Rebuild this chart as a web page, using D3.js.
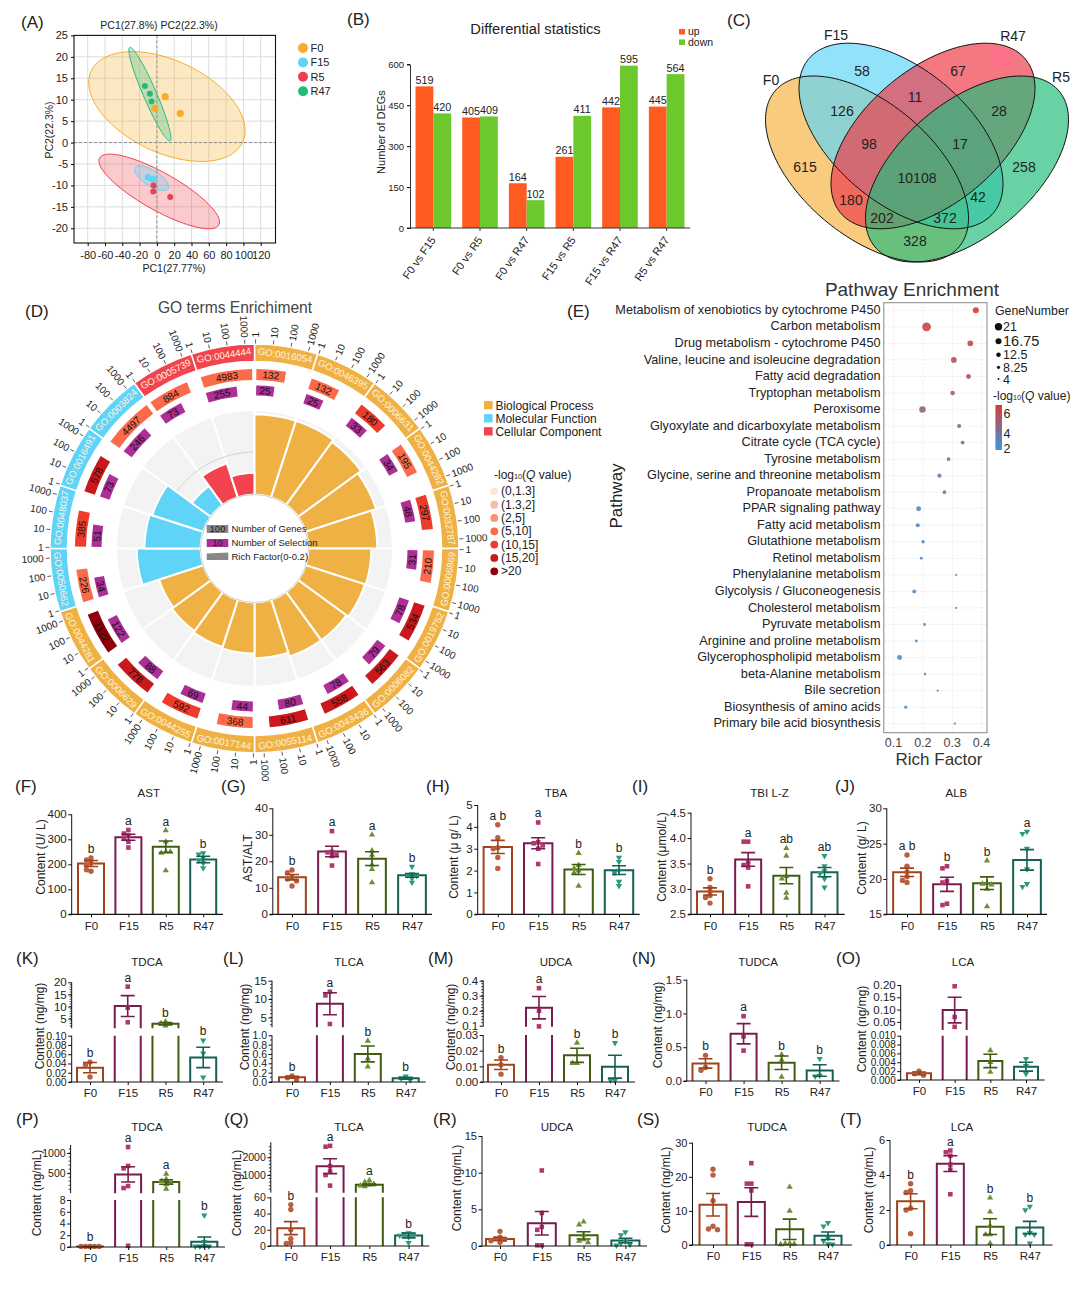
<!DOCTYPE html>
<html><head><meta charset="utf-8">
<script src="https://cdnjs.cloudflare.com/ajax/libs/d3/7.8.5/d3.min.js"></script>
<style>html,body{margin:0;padding:0;background:#fff}svg{display:block}text{font-family:"Liberation Sans",Arial,sans-serif;fill:#222}</style>
</head><body><svg id="c" width="1080" height="1312" viewBox="0 0 1080 1312"></svg>
<script>
// ---------- DATA ----------
const groups=['F0','F15','R5','R47'];
const groupColors=['#F7AC2B','#5FD4F8','#EE3F4D','#22BC7A'];
// A PCA
const pcaXTicks=[-80,-60,-40,-20,0,20,40,60,80,100,120];
const pcaYTicks=[-20,-15,-10,-5,0,5,10,15,20,25];
const pcaF0=[[9.6,10.7],[-2.3,8.0],[27,6.8]];
const pcaF15=[[-10.4,-8.1],[-5.4,-8.5],[-3.9,-8.5]];
const pcaR5=[[-3.9,-10],[-4.2,-11.4],[15.4,-12.7]];
const pcaR47=[[-13.9,13.2],[-8.1,11.4],[-6.2,9.6]];
// centre x, centre y, half-extent x, half-extent y, correlation
const ellF0=[11.6,8.4,90.4,12.8,-0.44];
const ellF15=[-6.2,-8.3,19.7,2.9,-0.7];
const ellR5=[2.7,-11.4,69.7,8.7,-0.82];
const ellR47=[-8.1,11.3,24.3,10.9,-0.94];
// B DEG
const degPairs=['F0 vs F15','F0 vs R5','F0 vs R47','F15 vs R5','F15 vs R47','R5 vs R47'];
const degUp=[519,405,164,261,442,445];
const degDown=[420,409,102,411,595,564];
const degTicks=[0,150,300,450,600];
// C Venn
const vennSets=['F0','F15','R47','R5'];
const vennLabels=[['58'],['67'],['126'],['11'],['28'],['98'],['17'],['615'],['10108'],['258'],['180'],['42'],['202'],['372'],['328']];
// D GO circle
const goIds=['GO:0016054','GO:0046395','GO:0006631','GO:0044282','GO:0032787','GO:0006869','GO:0019752','GO:0006082','GO:0043436','GO:0055114','GO:0017144','GO:0044255','GO:0006629','GO:0044281','GO:0050662','GO:0048037','GO:0016491','GO:0003824','GO:0005739','GO:0044444'];
const goClass=[0,0,0,0,0,0,0,0,0,0,0,0,0,0,1,1,1,1,2,2];
const goGenes=[132,132,180,195,297,210,534,563,558,611,368,592,778,1122,226,385,578,4497,884,4983];
const goSel=[25,25,33,34,48,31,78,79,78,80,44,69,88,122,34,51,73,246,73,255];
const goRich=[.189,.189,.183,.174,.162,.148,.146,.140,.140,.131,.120,.117,.113,.109,.150,.132,.126,.055,.083,.051];
const goQBin=[3,3,4,3,4,3,5,5,5,5,3,4,5,6,3,4,5,3,3,3];
const goClassNames=['Biological Process','Molecular Function','Cellular Component'];
const goClassColors=['#F0B144','#5FD4F8','#F2434F'];
const qBins=['(0,1.3]','(1.3,2]','(2,5]','(5,10]','(10,15]','(15,20]','>20'];
const qColors=['#FEE5DC','#FDBBA1','#FC9272','#FB6A4A','#EF3B2C','#CB181D','#8E000C'];
const logTicks=[1,10,100,1000];
// E pathway
const pathways=['Metabolism of xenobiotics by cytochrome P450','Carbon metabolism','Drug metabolism - cytochrome P450','Valine, leucine and isoleucine degradation','Fatty acid degradation','Tryptophan metabolism','Peroxisome','Glyoxylate and dicarboxylate metabolism','Citrate cycle (TCA cycle)','Tyrosine metabolism','Glycine, serine and threonine metabolism','Propanoate metabolism','PPAR signaling pathway','Fatty acid metabolism','Glutathione metabolism','Retinol metabolism','Phenylalanine metabolism','Glycolysis / Gluconeogenesis','Cholesterol metabolism','Pyruvate metabolism','Arginine and proline metabolism','Glycerophospholipid metabolism','beta-Alanine metabolism','Bile secretion','Biosynthesis of amino acids','Primary bile acid biosynthesis'];
const pathRich=[.379,.211,.360,.304,.354,.300,.197,.322,.334,.286,.255,.272,.184,.181,.199,.193,.312,.169,.312,.204,.176,.119,.206,.249,.140,.307];
const pathGenes=[14,21,13,13,11,10,15,9,8,8,9,8,11,9,7,6,4,8,4,6,6,11,5,4,7,4];
const pathQ=[6.9,6.5,6.3,6.0,5.7,5.3,4.8,4.6,4.4,4.2,3.8,3.6,3.0,2.8,2.5,2.3,2.1,2.2,2.1,2.1,2.2,2.2,2.1,2.0,2.1,2.0];
const pathTicks=[.1,.2,.3,.4];
const geneLegend=[21,16.75,12.5,8.25,4];
// F..T bars: mean, s.e.m., individual points, letters
const astM=[203,308,270,219],astE=[12,12,23,13],astP=[[225,217,205,196,172,178],[337,323,315,302,290,267],[335,290,250,245,250,175],[245,240,225,215,205,185]],astS=['b','a','a','b'];
const ratM=[14,23.7,21,14.7],ratE=[1,2,2.6,.7],ratP=[[16.7,15.7,14,13.3,12.6,10.7],[31.4,23.6,23.4,22.4,22,18.4],[30,24,22.4,18.6,17,12],[18,15.2,14.8,14.5,13.6,12]],ratS=['b','a','a','b'];
const tbaM=[3.08,3.25,2.05,2.02],tbaE=[.3,.25,.23,.2],tbaP=[[4.1,3.5,3.05,3,2.6,2.1],[4.2,3.3,3.25,3.15,3,2.3],[2.8,2.25,2.1,2,1.9,1.3],[2.6,2.4,2,1.9,1.5,1.3]],tbaS=['a b','a','b','b'];
const tbiM=[2.95,3.58,3.26,3.33],tbiE=[.07,.135,.16,.09],tbiP=[[3.2,3.03,2.95,2.87,2.83,2.72],[3.93,3.93,3.52,3.47,3.42,3.05],[3.8,3.65,3.25,3.2,2.92,2.82],[3.65,3.45,3.35,3.3,3.2,3.03]],tbiS=['b','a','ab','ab'];
const albM=[20.94,19.25,19.4,22.7],albE=[.6,1,.9,1.45],albP=[[23.4,21.8,21,20.3,19.8,19.5],[21.8,21.5,19.7,19.5,16.5,16.3],[22.6,19.4,19.3,19.2,18.6,16.1],[26.7,26.4,24.3,21.4,19.3,18.9]],albS=['a b','b','b','a'];
const k_M=[.031,10.2,2.9,.053],k_E=[.011,4.3,.5,.022],k_P=[[.043,.037,.011],[18.2,9.5,3.5],[3.8,3,2.1],[.09,.062,.01]],k_S=['b','a','b','b'];
const l_M=[.1,8.7,.6,.08],l_E=[.02,3,.17,.02],l_P=[[.13,.09,.05],[12,11,3.2],[.88,.5,.33],[.12,.08,.04]],l_S=['b','a','b','b'];
const m_M=[.011,.22,.017,.0098],m_E=[.003,.075,.0045,.0073],m_P=[[.0155,.011,.005],[.35,.2,.095],[.025,.012,.012],[.025,.001,.001]],m_S=['b','a','b','b'];
const n_M=[.26,.70,.27,.155],n_E=[.07,.15,.1,.085],n_P=[[.38,.2,.16],[.96,.66,.45],[.39,.31,.06],[.33,.08,.07]],n_S=['b','a','b','b'];
const o_M=[.0015,.098,.0043,.003],o_E=[.0003,.052,.0015,.001],o_P=[[.002,.0014,.0011],[.195,.07,.03],[.0067,.004,.0018],[.0048,.0032,.0014]],o_S=['','','',''];
const p_M=[.1,470,280,.9],p_E=[.02,190,55,.8],p_P=[[.1,.1,.1,.1,.1,.1],[1150,680,620,180,130,.2],[480,350,300,260,220,110],[5.4,.9,.2,.1,.1,.1]],p_S=['b','a','a','b'];
const q_M=[22,1500,453,13],q_E=[8,420,40,3],q_P=[[51,45,20,9,4,3],[2650,2600,1500,1200,1000,400],[700,600,500,450,400,350],[16,15,14,13,11,4]],q_S=['b','a','a','b'];
const r_M=[.95,3.1,1.45,.75],r_E=[.2,1.6,.5,.3],r_P=[[2,1.2,1,.9,.7,.5],[10.3,4.5,2.6,2.2,.1,.1],[3.3,2.9,1.5,.9,.7,.5],[1.9,1.5,.6,.4,.2,.1]],r_S=['','','',''];
const s_M=[11.8,12.6,4.6,2.7],s_E=[3.3,4.2,3,1.1],s_P=[[22.2,20.5,13,5.5,4.7,4.5],[24,18,18,16,.2,.2],[17,10,.5,.4,.3,.2],[6.5,5.5,2,1.2,.3,.2]],s_S=['','','',''];
const t_M=[2.5,4.65,1.05,1],t_E=[.43,.45,.45,.35],t_P=[[3.5,3.1,3,2.1,2,.65],[5.4,5.3,5.1,4.6,4.3,2.9],[2.7,1.9,1.1,.6,.6,.1],[2.2,2,.7,.6,.6,.1]],t_S=['b','a','b','b'];

// ---------- LAYOUT ----------
const svg=d3.select('#c');
function T(g,x,y,s,o={}){const e=g.append('text').attr('x',x).attr('y',y).text(s).attr('font-size',o.size||11).attr('text-anchor',o.anchor||'start');
 if(o.fill)e.style('fill',o.fill);if(o.rot!=null)e.attr('transform',`rotate(${o.rot},${x},${y})`);if(o.dy)e.attr('dy',o.dy);return e;}
function logQ(g,x,y,size){const e=g.append('text').attr('x',x).attr('y',y).attr('font-size',size);
 e.append('tspan').text('-log');e.append('tspan').text('10').attr('font-size',size*.6);e.append('tspan').text('(');e.append('tspan').text('Q').attr('font-style','italic');e.append('tspan').text(' value)');}
const panelLabels=[['(A)',21,28],['(B)',347,25],['(C)',727,26],['(D)',25,317],['(E)',567,317],['(F)',15,792],['(G)',221,792],['(H)',426,792],['(I)',632,792],['(J)',835,792],['(K)',16,964],['(L)',223,964],['(M)',428,964],['(N)',632,964],['(O)',836,964],['(P)',16,1125],['(Q)',224,1125],['(R)',433,1125],['(S)',637,1125],['(T)',840,1125]];
panelLabels.forEach(d=>T(svg,d[1],d[2],d[0],{size:17}));

// ---- A ----
(function(){
 const g=svg.append('g');
 const x=d3.scaleLinear().domain([-80,120]).range([87.7,260.7]);
 const y=d3.scaleLinear().domain([-20,25]).range([228.3,35.4]);
 const L=74,R=275.5,Tp=35.4,B=243;
 g.selectAll('.gx').data(pcaXTicks).join('line').attr('x1',x).attr('x2',x).attr('y1',Tp).attr('y2',B).attr('stroke','#dddddd');
 g.selectAll('.gy').data(pcaYTicks).join('line').attr('y1',y).attr('y2',y).attr('x1',L).attr('x2',R).attr('stroke','#dddddd');
 const line=d3.line().x(d=>x(d[0])).y(d=>y(d[1])).curve(d3.curveLinearClosed);
 const ts=d3.range(0,Math.PI*2,Math.PI/60);
 [ellF0,ellR47,ellR5,ellF15].forEach((e,i)=>{const c=[groupColors[0],groupColors[3],groupColors[2],groupColors[1]][i];
  const ph=Math.acos(e[4]);const pts=ts.map(t=>[e[0]+e[2]*Math.cos(t),e[1]+e[3]*Math.cos(t+ph)]);
  g.append('path').attr('d',line(pts)).attr('fill',c).attr('fill-opacity',.28).attr('stroke',c).attr('stroke-width',1);});
 g.append('line').attr('x1',x(0)).attr('x2',x(0)).attr('y1',Tp).attr('y2',B).attr('stroke','#8f8f8f').attr('stroke-dasharray','3,2');
 g.append('line').attr('y1',y(0)).attr('y2',y(0)).attr('x1',L).attr('x2',R).attr('stroke','#8f8f8f').attr('stroke-dasharray','3,2');
 [pcaF0,pcaR47,pcaF15,pcaR5].forEach((p,i)=>{const c=[groupColors[0],groupColors[3],groupColors[1],groupColors[2]][i],r=[3.6,3,3.2,3][i];
  g.selectAll(null).data(p).join('circle').attr('cx',d=>x(d[0])).attr('cy',d=>y(d[1])).attr('r',r).attr('fill',c);});
 g.append('rect').attr('x',L).attr('y',Tp).attr('width',R-L).attr('height',B-Tp).attr('fill','none').attr('stroke','#111').attr('stroke-width',1.1);
 const ax=g.append('g').attr('transform',`translate(0,${B})`).call(d3.axisBottom(x).tickValues(pcaXTicks).tickSize(3).tickFormat(d=>d));
 ax.select('.domain').remove();ax.selectAll('text').attr('font-size',11).attr('dy','.95em');
 const ay=g.append('g').attr('transform',`translate(${L},0)`).call(d3.axisLeft(y).tickValues(pcaYTicks).tickSize(3).tickFormat(d=>d));
 ay.select('.domain').remove();ay.selectAll('text').attr('font-size',11);
 T(g,159,29,'PC1(27.8%) PC2(22.3%)',{size:10.5,anchor:'middle'});
 T(g,174,272,'PC1(27.77%)',{size:10.5,anchor:'middle'});
 T(g,53,130,'PC2(22.3%)',{size:10.5,anchor:'middle',rot:-90});
 groups.forEach((n,i)=>{const yy=48+i*14.4;g.append('circle').attr('cx',303).attr('cy',yy).attr('r',5).attr('fill',groupColors[i]);T(g,310.5,yy+4,n,{size:11});});
})();

// ---- B ----
(function(){
 const g=svg.append('g');
 const x=d3.scaleBand().domain(degPairs).range([410,690]);
 const y=d3.scaleLinear().domain([0,600]).range([228,64.3]);
 const w=17.8;
 degPairs.forEach((p,i)=>{const c=x(p)+x.bandwidth()/2;
  g.append('rect').attr('x',c-w).attr('width',w).attr('y',y(degUp[i])).attr('height',y(0)-y(degUp[i])).attr('fill','#FF5A1F');
  g.append('rect').attr('x',c).attr('width',w).attr('y',y(degDown[i])).attr('height',y(0)-y(degDown[i])).attr('fill','#6CC82C');
  T(g,c-w/2,y(degUp[i])-2.5,degUp[i],{size:10.8,anchor:'middle'});
  T(g,c+w/2,y(degDown[i])-2.5,degDown[i],{size:10.8,anchor:'middle'});
  T(g,c+3,240,p,{size:11,anchor:'end',rot:-55});
 });
 const ay=g.append('g').attr('transform','translate(410,0)').call(d3.axisLeft(y).tickValues(degTicks).tickSize(3));
 ay.selectAll('text').attr('font-size',9.5);ay.select('.domain').attr('stroke','#333');
 g.append('line').attr('x1',407).attr('x2',690).attr('y1',y(0)).attr('y2',y(0)).attr('stroke','#333').attr('stroke-width',1.2);
 degPairs.forEach(p=>{const c=x(p)+x.bandwidth()/2;g.append('line').attr('x1',c).attr('x2',c).attr('y1',228).attr('y2',231).attr('stroke','#333');});
 T(g,535.5,34,'Differential statistics',{size:14.7,anchor:'middle'});
 T(g,385,132,'Number of DEGs',{size:11,anchor:'middle',rot:-90});
 [['up','#FF5A1F',29],['down','#6CC82C',39.5]].forEach(d=>{g.append('rect').attr('x',679).attr('y',d[2]).attr('width',6).attr('height',5.5).attr('fill',d[1]);T(g,688,d[2]+6,d[0],{size:10.5});});
})();

// ---- C ----
(function(){
 const g=svg.append('g');
 const ell=[[867,169,101.5,93,.53,'#F5A623'],[901,136,102,92.8,.515,'#5FD4F8'],[933,136,102,92.8,-.515,'#EE3F4D'],[967,169,101.5,93,-.53,'#22BC7A']];
 const ts=d3.range(0,Math.PI*2,Math.PI/80);
 const line=d3.line().curve(d3.curveLinearClosed);
 const paths=ell.map(e=>{const ph=Math.acos(e[4]);return line(ts.map(t=>[e[0]+e[2]*Math.cos(t),e[1]+e[3]*Math.cos(t+ph)]));});
 paths.forEach((p,i)=>g.append('path').attr('d',p).attr('fill',ell[i][5]).attr('fill-opacity',[.58,.68,.7,.68][i]));
 g.append('ellipse').attr('cx',1002).attr('cy',58).attr('rx',11).attr('ry',11).attr('fill','#FF6E8C').attr('fill-opacity',.7);
 paths.forEach(p=>g.append('path').attr('d',p).attr('fill','none').attr('stroke','#111').attr('stroke-width',1));
 const pos=[[862,71],[958,71],[842,111],[915,97],[999,111],[869,144],[960,144],[805,167],[917,178],[1024,167],[851,200],[978,197],[882,218],[945,218],[915,241]];
 vennLabels.forEach((d,i)=>T(g,pos[i][0],pos[i][1]+5,d[0],{size:14,anchor:'middle'}));
 [[836,40],[771,85],[1013,41],[1061,82]].forEach((p,i)=>T(g,p[0],p[1],['F15','F0','R47','R5'][i],{size:14,anchor:'middle'}));
})();

// ---- D ----
(function(){
 const cx=254.5,cy=548.5;
 const g=svg.append('g').attr('transform',`translate(${cx},${cy})`);
 const band=d3.scaleBand().domain(goIds).range([0,2*Math.PI]);
 const sw=band.bandwidth();
 const rich=d3.scaleLinear().domain([0,.2]).range([54,139]);
 const deg=Math.PI/180;
 const geneLen=d3.scaleLog().domain([1,1000]).range([0,13.5*deg]);
 const selLen=d3.scaleLog().domain([1,1000]).range([0,13.8*deg]);
 const tickAng=d3.scaleLog().domain([1,1000]).range([0,15*deg]);
 const arc=d3.arc();
 const gap=.6*deg;
 goIds.forEach((id,i)=>{
  const a0=band(id),a1=a0+sw;
  g.append('path').attr('d',arc({innerRadius:54,outerRadius:138.5,startAngle:a0,endAngle:a1})).attr('fill','#F3F3F3').attr('stroke','#fff').attr('stroke-width',2);
 });
 g.append('circle').attr('r',rich(.1)).attr('fill','none').attr('stroke','#c9c9c9').attr('stroke-width',.8);
 goIds.forEach((id,i)=>{
  const a0=band(id),a1=a0+sw,c=goClassColors[goClass[i]];
  g.append('path').attr('d',arc({innerRadius:54,outerRadius:rich(goRich[i]),startAngle:a0,endAngle:a1})).attr('fill',c).attr('stroke','#fff').attr('stroke-width',2);
  g.append('path').attr('d',arc({innerRadius:187,outerRadius:204.5,startAngle:a0,endAngle:a1})).attr('fill',c).attr('stroke','#fff').attr('stroke-width',1.5);
  const txt=(r,ang,s,o)=>{const d=ang/deg,top=(d<90||d>=270),rot=top?d:d-180;const px=r*Math.sin(ang),py=-r*Math.cos(ang);
   g.append('text').attr('transform',`translate(${px},${py}) rotate(${rot})`).attr('text-anchor','middle').attr('dy','.36em').attr('font-size',o.size).style('fill',o.fill).text(s);};
  txt(195.8,a0+sw/2,id,{size:9.6,fill:'#FFF3DC'});
  const ge=a0+gap+geneLen(goGenes[i]);
  g.append('path').attr('d',arc({innerRadius:168.5,outerRadius:179.5,startAngle:a0+gap,endAngle:ge})).attr('fill',qColors[goQBin[i]]);
  txt(174,(a0+gap+ge)/2,goGenes[i],{size:10,fill:'#111'});
  const se=a0+gap+selLen(goSel[i]);
  g.append('path').attr('d',arc({innerRadius:153,outerRadius:163,startAngle:a0+gap,endAngle:se})).attr('fill','#AC2E96');
  txt(158,(a0+gap+se)/2,goSel[i],{size:10,fill:'#111'});
  logTicks.forEach(v=>{const a=a0+.3*deg+tickAng(v),s=Math.sin(a),c2=-Math.cos(a),d=a/deg;
   g.append('line').attr('x1',205*s).attr('y1',205*c2).attr('x2',209*s).attr('y2',209*c2).attr('stroke','#333').attr('stroke-width',.8);
   const right=d<180;
   g.append('text').attr('transform',`translate(${211*s},${211*c2}) rotate(${right?d-90:d+90})`).attr('text-anchor',right?'start':'end').attr('dy','.35em').attr('font-size',10).text(v);
  });
 });
 g.append('circle').attr('r',54).attr('fill','#fff').attr('stroke','#cfcfcf').attr('stroke-width',1);
 const L=svg.append('g');
 L.append('rect').attr('x',206.7).attr('y',525).attr('width',21.6).attr('height',8).attr('fill','#888');
 T(L,217.5,532.2,'100',{size:9.5,anchor:'middle'});
 L.append('rect').attr('x',206.7).attr('y',539).attr('width',21.6).attr('height',8).attr('fill','#AC2E96');
 T(L,217.5,546.2,'10',{size:9.5,anchor:'middle'});
 L.append('path').attr('d','M206.7,553.5L228.3,552.5L228.3,560L206.7,560Z').attr('fill','#888');
 T(L,231.5,532,'Number of Genes',{size:9.5});T(L,231.5,546,'Number of Selection',{size:9.5});T(L,231.5,560,'Rich Factor(0-0.2)',{size:9.5});
 T(svg,235,313,'GO terms Enrichiment',{size:15.6,anchor:'middle',fill:'#444'});
 goClassNames.forEach((n,i)=>{const y=401+i*13.1;svg.append('rect').attr('x',484).attr('y',y).attr('width',8.6).attr('height',8.3).attr('fill',goClassColors[i]);T(svg,495.4,y+8.5,n,{size:12});});
 logQ(svg,494,479,12);
 qBins.forEach((n,i)=>{const y=491.3+i*13.33;svg.append('circle').attr('cx',494.3).attr('cy',y).attr('r',3.9).attr('fill',qColors[i]);T(svg,501,y+4,n,{size:12});});
})();

// ---- E ----
(function(){
 const g=svg.append('g');
 const L=883.8,R=987,Tp=302.7,B=732.7;
 const x=d3.scaleLinear().domain([.1,.4]).range([894,982]);
 const y=d3.scalePoint().domain(pathways).range([310.3,723.7]);
 const r=d3.scaleLinear().domain([4,21]).range([1.1,4.4]);
 const col=d3.scaleLinear().domain([1.8,7]).range(['#3B97E0','#D63C3A']);
 pathways.forEach(p=>g.append('line').attr('x1',L).attr('x2',R).attr('y1',y(p)).attr('y2',y(p)).attr('stroke','#e6e6e6').attr('stroke-dasharray','2,2').attr('stroke-width',.8));
 pathTicks.forEach(t=>g.append('line').attr('y1',Tp).attr('y2',B).attr('x1',x(t)).attr('x2',x(t)).attr('stroke','#e6e6e6').attr('stroke-dasharray','2,2').attr('stroke-width',.8));
 pathways.forEach((p,i)=>{g.append('circle').attr('cx',x(pathRich[i])).attr('cy',y(p)).attr('r',r(pathGenes[i])).attr('fill',col(pathQ[i])).attr('fill-opacity',.9);
  T(g,880.5,y(p)+3.6,p,{size:12.7,anchor:'end'});});
 g.append('rect').attr('x',L).attr('y',Tp).attr('width',R-L).attr('height',B-Tp).attr('fill','none').attr('stroke','#888').attr('stroke-width',1);
 pathTicks.forEach(t=>T(g,x(t)-.5,746.5,d3.format('.1f')(t),{size:12.5,anchor:'middle',fill:'#444'}));
 T(g,912,296,'Pathway Enrichment',{size:19,anchor:'middle',fill:'#333'});
 T(g,939,765,'Rich Factor',{size:17,anchor:'middle',fill:'#333'});
 T(g,622,496,'Pathway',{size:17,anchor:'middle',rot:-90});
 T(g,995,315,'GeneNumber',{size:12.3});
 const ly=[326.7,341.3,354.7,367.3,379];
 geneLegend.forEach((v,i)=>{g.append('circle').attr('cx',998.5).attr('cy',ly[i]).attr('r',r(v)*.84).attr('fill','#111');T(g,1003,ly[i]+(i==1?5:4.5),v,{size:i==1?14.5:12.5});});
 logQ(g,993,400,12);
 const defs=svg.append('defs');const lg=defs.append('linearGradient').attr('id','qg').attr('x1',0).attr('x2',0).attr('y1',0).attr('y2',1);
 lg.append('stop').attr('offset','0').attr('stop-color',col(7));lg.append('stop').attr('offset','1').attr('stop-color',col(1.8));
 const cy=d3.scaleLinear().domain([7,1.8]).range([405,450]);
 g.append('rect').attr('x',995.4).attr('y',405).attr('width',6.6).attr('height',45).attr('fill','url(#qg)');
 [6,4,2].forEach(v=>T(g,1003.5,cy(v)+[4,7,5][[6,4,2].indexOf(v)],v,{size:12.5}));
})();

// ---- F..T ----
const strokeCols=['#A0431C','#7A1B50','#3F5C10','#146054'];
const ptCols=['#B8603F','#B0386E','#6E8F38','#2A9A7C'];
const symT=[d3.symbolCircle,d3.symbolSquare,d3.symbolTriangle,d3.symbolTriangle];
function barPanel(c){
 const g=svg.append('g');
 const x=d3.scalePoint().domain(groups).range([c.c0,c.c3]);
 const segs=c.segs.map(s=>({...s,y:d3.scaleLinear().domain(s.d).range(s.r)}));
 const lo=segs[0],hi=segs[1];
 const Y=v=>(hi&&v>lo.d[1])?hi.y(Math.max(v,hi.d[0])):lo.y(Math.min(v,lo.d[1]));
 const base=lo.r[0];
 groups.forEach((n,i)=>{
  const cx=x(n),l=cx-c.bw/2,r=cx+c.bw/2,m=c.mean[i],yt=Y(m);
  let d;
  if(hi&&m>lo.d[1]){d=`M${l},${base}V${lo.r[1]}M${r},${base}V${lo.r[1]}M${l},${hi.r[0]}V${yt}H${r}V${hi.r[0]}`;
   g.append('rect').attr('x',l).attr('y',yt).attr('width',c.bw).attr('height',hi.r[0]-yt).attr('fill','#fff');}
  else d=`M${l},${base}V${yt}H${r}V${base}`;
  g.append('path').attr('d',d).attr('fill','none').attr('stroke',strokeCols[i]).attr('stroke-width',c.bsw||2);
  // points with a small swarm spread
  const py=c.pts[i].map(Y),placed=[];
  py.forEach(yy=>{let o=0;const opts=[0,-4.5,4.5,-9,9];for(const t of opts){if(!placed.some(p=>Math.hypot(p[0]-t,p[1]-yy)<4)){o=t;break;}}placed.push([o,yy]);});
  const sym=d3.symbol().type(symT[i]).size(i==1?21:i==0?23:17);
  placed.forEach(p=>g.append('path').attr('d',sym()).attr('fill',ptCols[i]).attr('transform',`translate(${cx+p[0]},${p[1]})${i==3?' rotate(180)':''}`));
  // error bars
  const up=Y(m+c.err[i]),dn=Y(Math.max(m-c.err[i],0));
  g.append('path').attr('d',`M${cx-7},${up}H${cx+7}M${cx},${up}V${dn}M${cx-7},${dn}H${cx+7}`).attr('fill','none').attr('stroke',strokeCols[i]).attr('stroke-width',1.6);
  const top=Math.min(up,d3.min(py));
  if(c.sig[i])T(g,cx,top-5,c.sig[i],{size:12,anchor:'middle'});
 });
 segs.forEach(s=>{
  const a=g.append('g').attr('transform',`translate(${c.ax},0)`).call(d3.axisLeft(s.y).tickValues(s.t).tickSize(3.5).tickPadding(1.5).tickFormat(s.f||(d=>d)));
  a.selectAll('text').attr('font-size',s.fs||c.fs||11.5);a.selectAll('line').attr('stroke','#111');a.select('.domain').attr('stroke','#111').attr('stroke-width',1).attr('d',`M0,${s.r[0]}V${s.r[1]}`);
  if(s.m){s.m.forEach(v=>g.append('line').attr('x1',c.ax-2).attr('x2',c.ax).attr('y1',s.y(v)).attr('y2',s.y(v)).attr('stroke','#111').attr('stroke-width',.8));}
 });
 g.append('line').attr('x1',c.ax-3).attr('x2',c.end).attr('y1',base).attr('y2',base).attr('stroke','#111').attr('stroke-width',1.2);
 const ax=g.append('g').attr('transform',`translate(0,${base})`).call(d3.axisBottom(x).tickSize(3).tickPadding(2.5));
 ax.select('.domain').remove();ax.selectAll('text').attr('font-size',11.5).attr('dy','.85em');ax.selectAll('line').attr('stroke','#111');
 if(c.title)T(g,c.tx,c.ty,c.title,{size:11.5,anchor:'middle'});
 c.yl.forEach(l=>T(g,l[0],l[1],l[2],{size:12,anchor:'middle',rot:-90}));
}
const f1=d3.format('.1f'),f2=d3.format('.2f'),f3=d3.format('.3f');
barPanel({mean:astM,err:astE,pts:astP,sig:astS,ax:71.7,end:223,c0:91,c3:203.2,bw:26,title:'AST',tx:148.8,ty:797,yl:[[45,857,'Content (U/ L)']],segs:[{d:[0,400],r:[914.3,814.3],t:[0,100,200,300,400]}]});
barPanel({mean:ratM,err:ratE,pts:ratP,sig:ratS,ax:272.8,end:432,c0:292,c3:412,bw:27.7,yl:[[252,858,'AST/ALT']],segs:[{d:[0,40],r:[914.3,808.3],t:[0,10,20,30,40]}]});
barPanel({mean:tbaM,err:tbaE,pts:tbaP,sig:tbaS,ax:477.7,end:639.7,c0:497.8,c3:619,bw:28.4,title:'TBA',tx:556,ty:797,yl:[[458,857,'Content (μ g/ L)']],segs:[{d:[0,5],r:[914.3,805],t:[0,1,2,3,4,5]}]});
barPanel({mean:tbiM,err:tbiE,pts:tbiP,sig:tbiS,ax:691,end:844.6,c0:710,c3:824.5,bw:26,title:'TBI L-Z',tx:769.5,ty:797,yl:[[666,857,'Content (μmol/L)']],segs:[{d:[2.5,4.5],r:[914.3,812.7],t:[2.5,3,3.5,4,4.5],f:f1}]});
barPanel({mean:albM,err:albE,pts:albP,sig:albS,ax:886.8,end:1047,c0:907,c3:1027,bw:27.7,title:'ALB',tx:956.4,ty:797,yl:[[866,858,'Content (g/ L)']],segs:[{d:[15,30],r:[914.3,808.3],t:[15,20,25,30]}]});

barPanel({mean:k_M,err:k_E,pts:k_P,sig:k_S,ax:71.7,end:223,c0:90,c3:203.2,bw:26,title:'TDCA',tx:147,ty:966,yl:[[44,1026,'Content (ng/mg)']],
 segs:[{d:[0,.1],r:[1082,1035.7],t:[0,.02,.04,.06,.08,.1],f:f2,fs:10.5},{d:[1,20],r:[1028.3,982.3],t:[5,10,15,20],m:d3.range(2,20,1)}]});
barPanel({mean:l_M,err:l_E,pts:l_P,sig:l_S,ax:272,end:425.7,c0:292,c3:405.7,bw:26,title:'TLCA',tx:349,ty:966,yl:[[249,1027,'Content (ng/mg)']],
 segs:[{d:[0,1],r:[1082,1035.3],t:[0,.2,.4,.6,.8,1],f:f1,fs:10.5,m:d3.range(.1,1,.2)},{d:[2.3,15],r:[1027.3,980.7],t:[5,10,15],m:d3.range(3,15,1)}]});
barPanel({mean:m_M,err:m_E,pts:m_P,sig:m_S,ax:483.2,end:635,c0:501,c3:615,bw:26,title:'UDCA',tx:556,ty:966,yl:[[455,1027,'Content (ng/mg)']],
 segs:[{d:[0,.03],r:[1082,1035],t:[0,.01,.02,.03],f:f2},{d:[.093,.4],r:[1026.7,980.7],t:[.1,.2,.3,.4],f:f1,m:d3.range(.12,.4,.02)}]});
barPanel({mean:n_M,err:n_E,pts:n_P,sig:n_S,ax:686.8,end:839.4,c0:705.5,c3:819.7,bw:26,title:'TUDCA',tx:758,ty:966,yl:[[662,1025,'Content (ng/mg)']],segs:[{d:[0,1.5],r:[1081,979.7],t:[0,.5,1,1.5],f:f1}]});
barPanel({mean:o_M,err:o_E,pts:o_P,sig:o_S,ax:900.7,end:1044.7,c0:919,c3:1026,bw:24,title:'LCA',tx:963,ty:966,yl:[[866,1029,'Content (ng/mg)']],
 segs:[{d:[0,.01],r:[1080,1035.7],t:[0,.002,.004,.006,.008,.01],f:f3,fs:10},{d:[.017,.2],r:[1030,985],t:[.05,.1,.15,.2],f:f2}]});

barPanel({mean:p_M,err:p_E,pts:p_P,sig:p_S,ax:70.6,end:225,c0:90,c3:204.3,bw:26,title:'TDCA',tx:147,ty:1131,fs:10.5,yl:[[41,1193,'Content (ng/mL)']],
 segs:[{d:[0,8],r:[1247,1200],t:[0,2,4,6,8]},{d:[0,1200],r:[1193.3,1145],t:[500,1000],m:d3.range(100,1200,100)}]});
barPanel({mean:q_M,err:q_E,pts:q_P,sig:q_S,ax:270.8,end:429.3,c0:290.8,c3:408.6,bw:27,title:'TLCA',tx:349,ty:1131,fs:10.5,yl:[[240.5,1193,'Content (ng/mL)']],
 segs:[{d:[0,60],r:[1246,1197.3],t:[0,20,40,60]},{d:[0,2850],r:[1192.7,1142.3],t:[1000,2000],m:d3.range(200,2800,200)}]});
barPanel({mean:r_M,err:r_E,pts:r_P,sig:r_S,ax:482,end:647,c0:500,c3:625.4,bw:28,title:'UDCA',tx:557,ty:1131,fs:11,yl:[[461,1188,'Content (ng/mL)']],segs:[{d:[0,15],r:[1246,1136],t:[0,5,10,15]}]});
barPanel({mean:s_M,err:s_E,pts:s_P,sig:s_S,ax:692.5,end:852,c0:713,c3:828,bw:27,title:'TUDCA',tx:767,ty:1131,fs:11,yl:[[670,1190,'Content (ng/mL)']],segs:[{d:[0,30],r:[1245,1142.7],t:[0,10,20,30]}]});
barPanel({mean:t_M,err:t_E,pts:t_P,sig:t_S,ax:890,end:1052.6,c0:910.6,c3:1029.8,bw:27,title:'LCA',tx:962,ty:1131,fs:11,yl:[[873,1190,'Content (ng/mL)']],segs:[{d:[0,6],r:[1245,1140],t:[0,2,4,6]}]});
</script></body></html>
